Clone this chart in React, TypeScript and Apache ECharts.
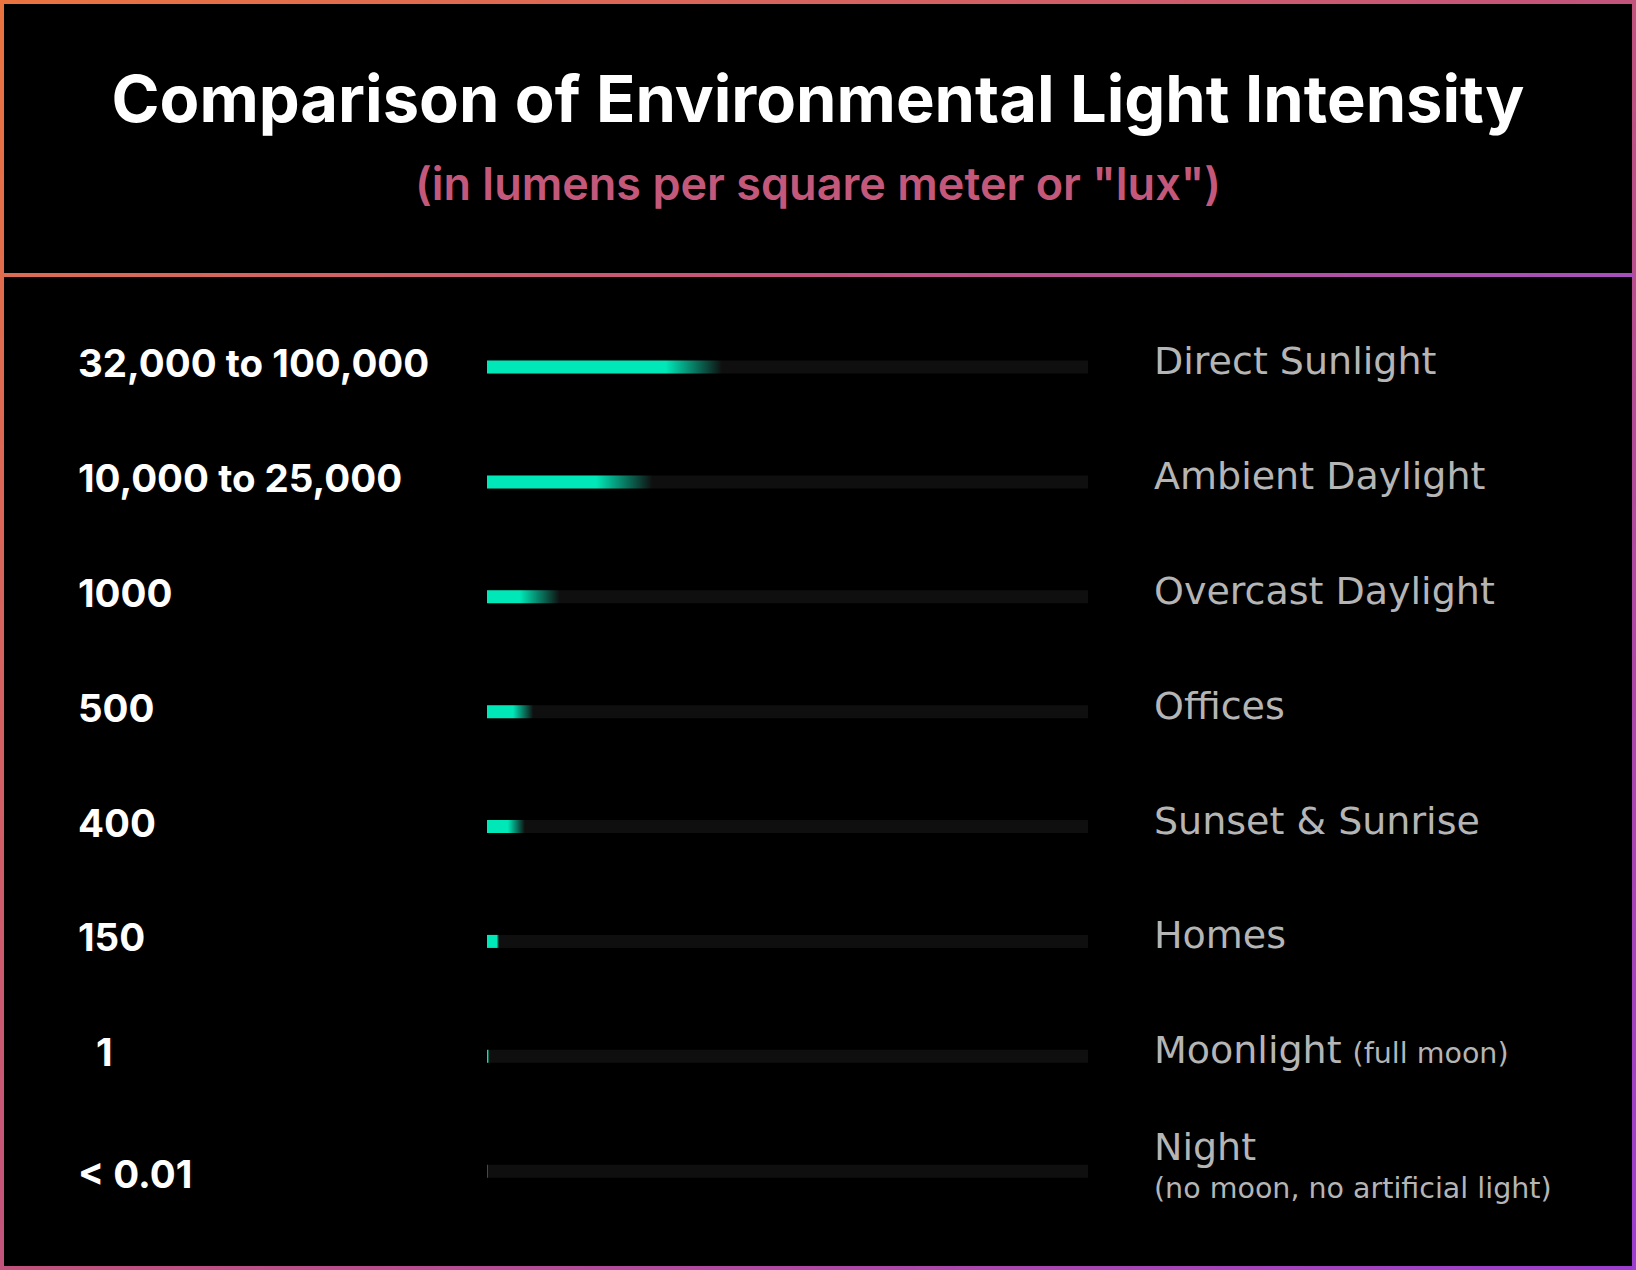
import React, { useEffect, useRef } from 'react'
import * as echarts from 'echarts'

// lux ranges shown on the left, one per row
const luxLabels = ['32,000 to 100,000', '10,000 to 25,000', '1000', '500', '400', '150', '1', '< 0.01']
// light sources on the right
const sources = ['Direct Sunlight', 'Ambient Daylight', 'Overcast Daylight', 'Offices', 'Sunset & Sunrise', 'Homes', 'Moonlight', 'Night']
const sourceNotes = ['', '', '', '', '', '', '(full moon)', '(no moon, no artificial light)']
// bar length as % of the track
const barLengths = [39.1, 27.5, 12.1, 7.7, 6.3, 2.0, 0.35, 0.15]

// where the solid colour starts fading out, per bar (0..1 of its length)
const fadeFrom = [0.76, 0.66, 0.45, 0.56, 0.55, 0.8, 0.3, 0]

const TEAL = '#00e8b8'

const App: React.FC = () => {
  const chartRef = useRef<HTMLDivElement>(null)

  useEffect(() => {
    if (!chartRef.current) return
    const chart = echarts.init(chartRef.current, undefined, { renderer: 'svg' })

    const rowTop = 309.6
    const rowsHeight = 919

    const option: echarts.EChartsOption = {
      animation: false,
      backgroundColor: '#000',
      title: {
        text: 'Comparison of Environmental Light Intensity',
        subtext: '(in lumens per square meter or "lux")',
        left: 'center',
        top: 61,
        itemGap: 30,
        textStyle: {
          color: '#fff',
          fontFamily: 'Inter',
          fontWeight: 'bold',
          fontSize: 65
        },
        subtextStyle: {
          color: '#c4587a',
          fontFamily: 'Inter',
          fontWeight: 600,
          fontSize: 45
        }
      },
      graphic: [
        {
          type: 'rect',
          shape: { x: 2, y: 2, width: 1632, height: 1266 },
          style: {
            fill: 'none',
            lineWidth: 4,
            stroke: new echarts.graphic.LinearGradient(0, 0, 1, 1, [
              { offset: 0, color: '#ea7440' },
              { offset: 0.5, color: '#c2537c' },
              { offset: 1, color: '#9c3fd0' }
            ])
          },
          silent: true
        },
        {
          type: 'rect',
          shape: { x: 2, y: 273, width: 1632, height: 4 },
          style: {
            fill: new echarts.graphic.LinearGradient(0, 0, 1, 0, [
              { offset: 0, color: '#dc6c52' },
              { offset: 0.5, color: '#c2527e' },
              { offset: 1, color: '#a650bc' }
            ])
          },
          silent: true
        }
      ],
      grid: {
        left: 487,
        right: 548,
        top: rowTop,
        height: rowsHeight
      },
      xAxis: {
        type: 'value',
        min: 0,
        max: 100,
        show: false
      },
      yAxis: [
        {
          type: 'category',
          data: luxLabels,
          inverse: true,
          axisLine: { show: false },
          axisTick: { show: false },
          axisLabel: {
            align: 'left',
            margin: 409,
            padding: [0, 0, 8, 0],
            color: '#fff',
            fontFamily: 'Inter',
            fontWeight: 'bold',
            fontSize: 38.5,
            formatter: (v: string) => {
              if (v === '1') return '{ind|1}'
              if (v === '< 0.01') return '{low|< 0.01}'
              return v
            },
            rich: {
              ind: {
                color: '#fff',
                fontFamily: 'Inter',
                fontWeight: 'bold',
                fontSize: 38.5,
                padding: [0, 0, 0, 18]
              },
              low: {
                color: '#fff',
                fontFamily: 'Inter',
                fontWeight: 'bold',
                fontSize: 38.5,
                padding: [14, 0, 0, 0]
              }
            }
          }
        },
        {
          type: 'category',
          data: sources,
          inverse: true,
          position: 'right',
          axisLine: { show: false },
          axisTick: { show: false },
          axisLabel: {
            align: 'left',
            margin: 66,
            padding: [0, 0, 12, 0],
            formatter: (v: string, i: number) => {
              const note = sourceNotes[i]
              if (!note) return `{main|${v}}`
              if (v === 'Night') return `{main|${v}}\n{note|${note}}`
              return `{main|${v}}{gap|${note}}`
            },
            rich: {
              main: {
                color: '#b5b5b5',
                fontFamily: 'DejaVu Sans',
                fontSize: 38,
                lineHeight: 46
              },
              note: {
                color: '#b5b5b5',
                fontFamily: 'DejaVu Sans',
                fontSize: 28.5,
                lineHeight: 36
              },
              gap: {
                color: '#b5b5b5',
                fontFamily: 'DejaVu Sans',
                fontSize: 28.5,
                lineHeight: 36,
                padding: [6, 0, 0, 11]
              }
            }
          }
        }
      ],
      series: [
        {
          type: 'bar',
          yAxisIndex: 0,
          barWidth: 13,
          showBackground: true,
          backgroundStyle: { color: '#0f0f0f' },
          data: barLengths.map((v, i) => ({
            value: v,
            itemStyle: {
              color: new echarts.graphic.LinearGradient(0, 0, 1, 0, [
                { offset: 0, color: TEAL },
                { offset: fadeFrom[i], color: TEAL },
                { offset: 1, color: 'rgba(0, 232, 184, 0)' }
              ])
            }
          }))
        }
      ]
    }

    chart.setOption(option)

    return () => {
      chart.dispose()
    }
  }, [])

  return (
    <div
      ref={chartRef}
      style={{ position: 'absolute', left: 0, top: 0, width: '1636px', height: '1270px' }}
    />
  )
}

export default App
